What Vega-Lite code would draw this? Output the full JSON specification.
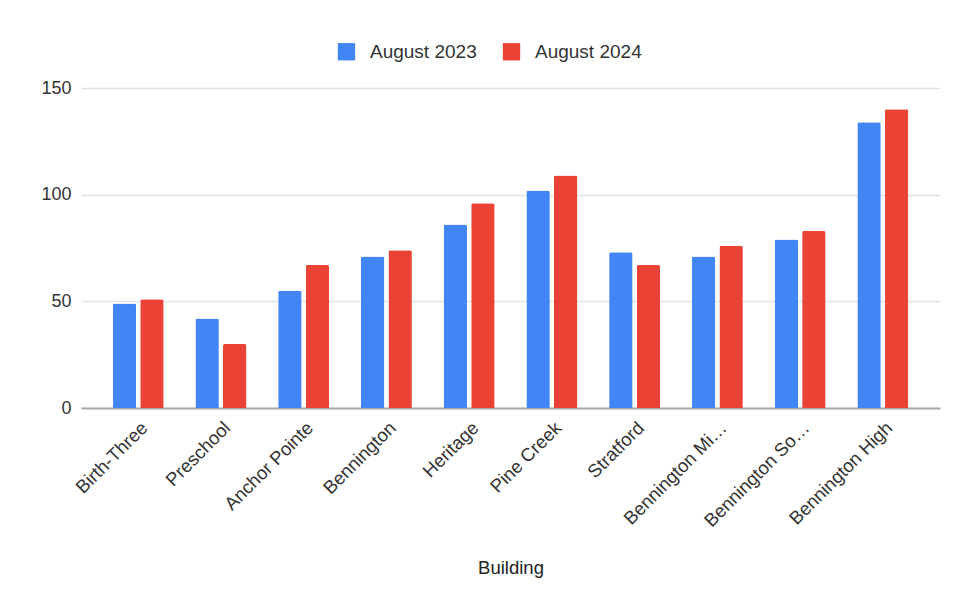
{
  "$schema": "https://vega.github.io/schema/vega-lite/v6.json",
  "autosize": "none",
  "width": 859,
  "height": 320,
  "padding": {"left": 81, "top": 88, "right": 16, "bottom": 196},
  "background": "white",
  "data": {
    "values": [
      {"Building": "Birth-Three", "Period": "August 2023", "Count": 49},
      {"Building": "Birth-Three", "Period": "August 2024", "Count": 51},
      {"Building": "Preschool", "Period": "August 2023", "Count": 42},
      {"Building": "Preschool", "Period": "August 2024", "Count": 30},
      {"Building": "Anchor Pointe", "Period": "August 2023", "Count": 55},
      {"Building": "Anchor Pointe", "Period": "August 2024", "Count": 67},
      {"Building": "Bennington", "Period": "August 2023", "Count": 71},
      {"Building": "Bennington", "Period": "August 2024", "Count": 74},
      {"Building": "Heritage", "Period": "August 2023", "Count": 86},
      {"Building": "Heritage", "Period": "August 2024", "Count": 96},
      {"Building": "Pine Creek", "Period": "August 2023", "Count": 102},
      {"Building": "Pine Creek", "Period": "August 2024", "Count": 109},
      {"Building": "Stratford", "Period": "August 2023", "Count": 73},
      {"Building": "Stratford", "Period": "August 2024", "Count": 67},
      {"Building": "Bennington Mi…", "Period": "August 2023", "Count": 71},
      {"Building": "Bennington Mi…", "Period": "August 2024", "Count": 76},
      {"Building": "Bennington So…", "Period": "August 2023", "Count": 79},
      {"Building": "Bennington So…", "Period": "August 2024", "Count": 83},
      {"Building": "Bennington High", "Period": "August 2023", "Count": 134},
      {"Building": "Bennington High", "Period": "August 2024", "Count": 140}
    ]
  },
  "mark": {"type": "bar", "cornerRadiusTopLeft": 2, "cornerRadiusTopRight": 2},
  "encoding": {
    "x": {
      "field": "Building",
      "type": "nominal",
      "sort": null,
      "scale": {"paddingInner": 0.384, "paddingOuter": 0.383},
      "axis": {
        "title": "Building",
        "titleFont": "Liberation Sans",
        "titleFontSize": 18.5,
        "titleFontWeight": "normal",
        "titleColor": "#222",
        "titlePadding": 29,
        "labelAngle": -45,
        "labelFont": "Liberation Sans",
        "labelFontSize": 18.5,
        "labelColor": "#333",
        "labelPadding": 10,
        "labelLimit": 300,
        "ticks": false,
        "domainColor": "#aaaaaa",
        "domainWidth": 2,
        "grid": false
      }
    },
    "xOffset": {
      "field": "Period",
      "type": "nominal",
      "scale": {"paddingInner": 0.15, "paddingOuter": 0}
    },
    "y": {
      "field": "Count",
      "type": "quantitative",
      "scale": {"domain": [0, 150], "nice": false},
      "axis": {
        "title": null,
        "values": [0, 50, 100, 150],
        "labelFont": "Liberation Sans",
        "labelFontSize": 18,
        "labelColor": "#333",
        "labelPadding": 10,
        "ticks": false,
        "domain": false,
        "gridColor": "#e3e3e3",
        "gridWidth": 1.5
      }
    },
    "color": {
      "field": "Period",
      "type": "nominal",
      "scale": {"domain": ["August 2023", "August 2024"], "range": ["#4285F4", "#EA4335"]},
      "legend": {
        "title": null,
        "orient": "none",
        "direction": "horizontal",
        "legendX": 256,
        "legendY": -46,
        "symbolType": "square",
        "symbolSize": 300,
        "symbolStrokeWidth": 0,
        "symbolOpacity": 1,
        "labelFont": "Liberation Sans",
        "labelFontSize": 19,
        "labelColor": "#333",
        "labelOffset": 14,
        "columnPadding": 25
      }
    }
  },
  "config": {
    "view": {"stroke": null}
  }
}
